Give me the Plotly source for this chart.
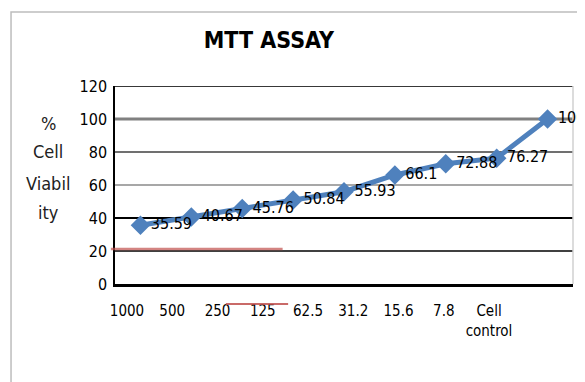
import plotly.graph_objects as go

categories = ["1000", "500", "250", "125", "62.5", "31.2", "15.6", "7.8", "Cell<br>control"]
viability = [35.59, 40.67, 45.76, 50.84, 55.93, 66.1, 72.88, 76.27, 100]
value_labels = ["35.59", "40.67", "45.76", "50.84", "55.93", "66.1", "72.88", "76.27", "100"]
y_ticks = [0, 20, 40, 60, 80, 100, 120]
y_title_lines = ["%", "Cell", "Viabil", "ity"]

# gridline styling (one per tick above zero)
grid_colors = ["black", "black", "#8a8a8a", "#404040", "#808080", "#383838"]
grid_widths = [1.5, 2.2, 1.6, 1.6, 3, 2]
title_line_pos = [0.813, 0.667, 0.51, 0.359]

FONT = "DejaVu Sans Condensed, Liberation Sans Narrow, sans-serif"
BLUE = "#4F81BD"

idx = list(range(len(categories)))

fig = go.Figure()
fig.add_trace(go.Scatter(
    x=idx, y=viability, mode="lines+markers+text",
    line=dict(color=BLUE, width=5),
    marker=dict(symbol="diamond", size=15, color=BLUE),
    text=value_labels, textposition="middle right",
    textfont=dict(family=FONT, size=16, color="black"),
    cliponaxis=False, showlegend=False, xaxis="x", yaxis="y",
))
# invisible trace to carry the category tick labels on the label axis
fig.add_trace(go.Scatter(x=idx, y=viability, mode="markers", marker=dict(opacity=0),
                         showlegend=False, hoverinfo="skip", xaxis="x2", yaxis="y"))

shapes = [
    dict(type="rect", xref="paper", yref="paper", x0=-0.227, x1=1.2, y0=-0.7, y1=1.3737,
         line=dict(color="#bdbdbd", width=1.5), layer="below"),
]
for t, c, w in zip(y_ticks[1:], grid_colors, grid_widths):
    shapes.append(dict(type="line", xref="paper", yref="y", x0=0, x1=1, y0=t, y1=t,
                       line=dict(color=c, width=w), layer="below"))
shapes += [
    dict(type="line", xref="paper", yref="paper", x0=1, x1=1, y0=0, y1=1,
         line=dict(color="#d0d0d0", width=1.5), layer="below"),
    dict(type="line", xref="paper", yref="paper", x0=-0.009, x1=0.366, y0=0.177, y1=0.177,
         line=dict(color="rgba(192,80,77,0.7)", width=2.5)),
    dict(type="line", xref="paper", yref="paper", x0=0.242, x1=0.378, y0=-0.101, y1=-0.101,
         line=dict(color="rgba(192,80,77,0.85)", width=2)),
]

annotations = [
    dict(text=line, xref="paper", yref="paper", x=-0.146, y=py, xanchor="center",
         yanchor="middle", showarrow=False, font=dict(family=FONT, size=18, color="#222"))
    for line, py in zip(y_title_lines, title_line_pos)
]

fig.update_layout(
    width=577, height=374,
    margin=dict(l=107, r=12, t=78, b=98),
    paper_bgcolor="white", plot_bgcolor="white",
    title=dict(text="<b>MTT ASSAY</b>", x=0.452, xanchor="center", y=0.914, yanchor="middle",
               font=dict(family=FONT, size=23, color="black")),
    xaxis=dict(range=[-0.5, 8.5], showticklabels=False, showgrid=False, ticks="",
               showline=True, linecolor="black", linewidth=2.5, zeroline=False),
    xaxis2=dict(overlaying="x", range=[-0.265, 9.856], side="bottom", showgrid=False, ticks="",
                tickmode="array", tickvals=idx, ticktext=categories, showline=False,
                ticklabelstandoff=16,
                tickfont=dict(family=FONT, size=15, color="black"), zeroline=False),
    yaxis=dict(range=[0, 120], tickvals=y_ticks, showgrid=False,
               showline=True, linecolor="black", linewidth=1.5, zeroline=False, ticks="",
               ticklabelstandoff=3,
               tickfont=dict(family=FONT, size=16, color="black")),
    annotations=annotations,
    shapes=shapes,
)

fig.write_html("out.html")
